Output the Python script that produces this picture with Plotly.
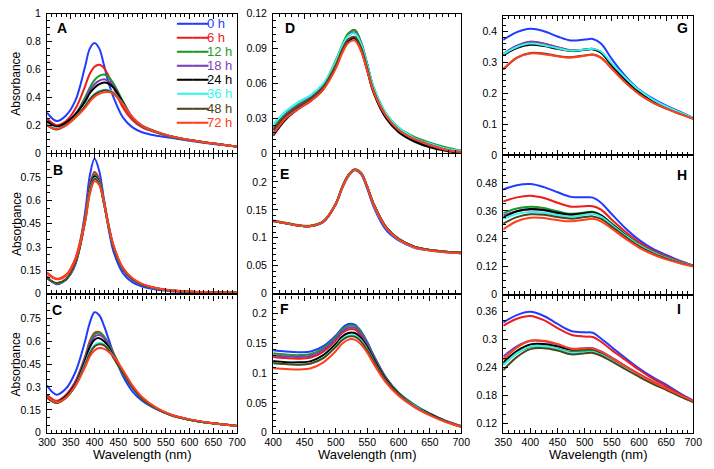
import plotly.graph_objects as go

W, H = 714, 469

HOURS = ["0 h", "6 h", "12 h", "18 h", "24 h", "36 h", "48 h", "72 h"]
COLORS = ["#1f3cff", "#ee1c1c", "#1a9a2a", "#7a3fb5", "#000000", "#33f5ee", "#4f4519", "#ff4020"]

WL_1 = [300, 320, 340, 360, 380, 390, 400, 410, 420, 430, 440, 460, 480, 500, 530, 560, 600, 650, 700]
WL_2 = [400, 420, 440, 460, 480, 500, 510, 520, 530, 540, 550, 560, 580, 600, 625, 650, 675, 700]
WL_3 = [350, 375, 400, 425, 450, 475, 500, 515, 530, 550, 575, 600, 625, 650, 675, 700]

A_SPECTRA = [
    [0.290, 0.230, 0.270, 0.380, 0.620, 0.750, 0.790, 0.750, 0.630, 0.500, 0.400, 0.255, 0.185, 0.150, 0.125, 0.110, 0.088, 0.065, 0.047],
    [0.250, 0.200, 0.230, 0.320, 0.480, 0.570, 0.620, 0.635, 0.610, 0.550, 0.470, 0.325, 0.235, 0.185, 0.148, 0.118, 0.092, 0.068, 0.047],
    [0.220, 0.180, 0.210, 0.280, 0.400, 0.470, 0.525, 0.555, 0.565, 0.545, 0.500, 0.370, 0.255, 0.195, 0.152, 0.120, 0.094, 0.069, 0.047],
    [0.220, 0.180, 0.210, 0.280, 0.380, 0.450, 0.495, 0.520, 0.530, 0.515, 0.480, 0.360, 0.252, 0.193, 0.151, 0.120, 0.094, 0.069, 0.047],
    [0.230, 0.190, 0.220, 0.280, 0.370, 0.430, 0.470, 0.495, 0.507, 0.498, 0.470, 0.362, 0.255, 0.196, 0.153, 0.121, 0.094, 0.069, 0.047],
    [0.210, 0.180, 0.200, 0.260, 0.340, 0.390, 0.425, 0.447, 0.455, 0.452, 0.435, 0.352, 0.255, 0.196, 0.153, 0.121, 0.094, 0.069, 0.047],
    [0.200, 0.170, 0.200, 0.260, 0.335, 0.385, 0.420, 0.440, 0.450, 0.447, 0.430, 0.348, 0.255, 0.196, 0.153, 0.121, 0.094, 0.069, 0.047],
    [0.200, 0.175, 0.200, 0.255, 0.325, 0.370, 0.405, 0.425, 0.436, 0.438, 0.425, 0.350, 0.258, 0.198, 0.154, 0.122, 0.095, 0.069, 0.047],
]

B_SPECTRA = [
    [0.110, 0.060, 0.090, 0.190, 0.520, 0.760, 0.870, 0.790, 0.600, 0.410, 0.270, 0.130, 0.072, 0.045, 0.025, 0.015, 0.009, 0.005, 0.004],
    [0.135, 0.095, 0.120, 0.230, 0.500, 0.700, 0.785, 0.740, 0.600, 0.440, 0.310, 0.160, 0.095, 0.060, 0.034, 0.020, 0.012, 0.007, 0.005],
    [0.100, 0.065, 0.090, 0.200, 0.480, 0.680, 0.770, 0.730, 0.590, 0.430, 0.300, 0.155, 0.090, 0.057, 0.032, 0.019, 0.011, 0.006, 0.004],
    [0.100, 0.065, 0.090, 0.200, 0.480, 0.670, 0.760, 0.720, 0.585, 0.430, 0.300, 0.155, 0.090, 0.057, 0.032, 0.019, 0.011, 0.006, 0.004],
    [0.100, 0.066, 0.090, 0.200, 0.470, 0.670, 0.755, 0.715, 0.580, 0.425, 0.298, 0.155, 0.090, 0.057, 0.032, 0.019, 0.011, 0.006, 0.004],
    [0.100, 0.066, 0.090, 0.200, 0.470, 0.660, 0.745, 0.710, 0.580, 0.425, 0.300, 0.156, 0.090, 0.058, 0.032, 0.019, 0.011, 0.006, 0.004],
    [0.100, 0.068, 0.092, 0.200, 0.460, 0.650, 0.740, 0.705, 0.575, 0.425, 0.300, 0.157, 0.091, 0.058, 0.033, 0.019, 0.011, 0.006, 0.004],
    [0.130, 0.092, 0.115, 0.220, 0.460, 0.640, 0.725, 0.700, 0.580, 0.430, 0.310, 0.165, 0.098, 0.062, 0.035, 0.021, 0.012, 0.007, 0.005],
]

C_SPECTRA = [
    [0.310, 0.250, 0.290, 0.400, 0.600, 0.720, 0.790, 0.770, 0.700, 0.610, 0.520, 0.370, 0.270, 0.210, 0.155, 0.118, 0.085, 0.060, 0.045],
    [0.250, 0.210, 0.250, 0.340, 0.500, 0.600, 0.655, 0.660, 0.630, 0.580, 0.520, 0.400, 0.300, 0.225, 0.160, 0.118, 0.086, 0.062, 0.045],
    [0.240, 0.200, 0.240, 0.330, 0.490, 0.590, 0.645, 0.655, 0.630, 0.580, 0.520, 0.400, 0.300, 0.225, 0.160, 0.118, 0.086, 0.062, 0.045],
    [0.240, 0.200, 0.240, 0.330, 0.480, 0.580, 0.630, 0.640, 0.620, 0.570, 0.510, 0.395, 0.300, 0.225, 0.160, 0.118, 0.086, 0.062, 0.045],
    [0.240, 0.200, 0.240, 0.320, 0.470, 0.560, 0.610, 0.620, 0.600, 0.560, 0.500, 0.390, 0.295, 0.222, 0.158, 0.117, 0.086, 0.062, 0.045],
    [0.230, 0.200, 0.230, 0.310, 0.450, 0.530, 0.575, 0.590, 0.580, 0.545, 0.495, 0.390, 0.295, 0.222, 0.158, 0.117, 0.086, 0.062, 0.045],
    [0.230, 0.195, 0.230, 0.310, 0.440, 0.520, 0.565, 0.580, 0.572, 0.540, 0.490, 0.390, 0.295, 0.222, 0.158, 0.117, 0.086, 0.062, 0.045],
    [0.240, 0.200, 0.230, 0.310, 0.430, 0.500, 0.540, 0.555, 0.550, 0.530, 0.500, 0.410, 0.310, 0.235, 0.165, 0.120, 0.088, 0.063, 0.045],
]

D_SPECTRA = [
    [0.017, 0.031, 0.039, 0.046, 0.056, 0.075, 0.087, 0.097, 0.100, 0.090, 0.072, 0.053, 0.031, 0.019, 0.011, 0.006, 0.003, 0.001],
    [0.020, 0.033, 0.041, 0.048, 0.058, 0.079, 0.092, 0.103, 0.106, 0.095, 0.076, 0.056, 0.033, 0.021, 0.013, 0.008, 0.004, 0.002],
    [0.022, 0.034, 0.042, 0.049, 0.059, 0.080, 0.093, 0.103, 0.106, 0.096, 0.077, 0.057, 0.034, 0.022, 0.014, 0.009, 0.005, 0.002],
    [0.020, 0.033, 0.041, 0.048, 0.058, 0.078, 0.091, 0.101, 0.104, 0.094, 0.076, 0.056, 0.033, 0.021, 0.013, 0.008, 0.004, 0.002],
    [0.015, 0.029, 0.038, 0.045, 0.055, 0.074, 0.087, 0.096, 0.099, 0.089, 0.071, 0.052, 0.030, 0.018, 0.010, 0.005, 0.002, 0.000],
    [0.025, 0.036, 0.044, 0.050, 0.060, 0.079, 0.092, 0.101, 0.103, 0.094, 0.076, 0.057, 0.034, 0.022, 0.013, 0.008, 0.004, 0.002],
    [0.020, 0.032, 0.040, 0.047, 0.057, 0.076, 0.089, 0.098, 0.100, 0.091, 0.073, 0.054, 0.032, 0.020, 0.012, 0.007, 0.003, 0.001],
    [0.016, 0.030, 0.038, 0.045, 0.055, 0.073, 0.086, 0.095, 0.097, 0.088, 0.071, 0.053, 0.032, 0.020, 0.012, 0.007, 0.003, 0.001],
]

E_SPECTRA = [
    [0.130, 0.126, 0.122, 0.121, 0.128, 0.160, 0.188, 0.210, 0.221, 0.214, 0.188, 0.156, 0.114, 0.095, 0.082, 0.077, 0.074, 0.072],
    [0.130, 0.126, 0.122, 0.121, 0.129, 0.161, 0.190, 0.212, 0.222, 0.216, 0.191, 0.160, 0.118, 0.097, 0.083, 0.078, 0.075, 0.072],
    [0.131, 0.127, 0.123, 0.122, 0.130, 0.162, 0.191, 0.213, 0.223, 0.217, 0.192, 0.161, 0.119, 0.098, 0.084, 0.078, 0.075, 0.073],
    [0.130, 0.126, 0.122, 0.121, 0.129, 0.161, 0.190, 0.212, 0.222, 0.216, 0.191, 0.160, 0.118, 0.097, 0.083, 0.078, 0.075, 0.072],
    [0.130, 0.126, 0.122, 0.121, 0.129, 0.161, 0.190, 0.212, 0.222, 0.216, 0.191, 0.161, 0.119, 0.098, 0.084, 0.078, 0.075, 0.073],
    [0.130, 0.126, 0.122, 0.121, 0.129, 0.161, 0.189, 0.211, 0.222, 0.216, 0.191, 0.160, 0.118, 0.097, 0.083, 0.078, 0.075, 0.072],
    [0.130, 0.126, 0.122, 0.121, 0.129, 0.161, 0.190, 0.212, 0.222, 0.216, 0.191, 0.161, 0.119, 0.098, 0.084, 0.078, 0.075, 0.073],
    [0.130, 0.126, 0.122, 0.121, 0.129, 0.161, 0.190, 0.212, 0.222, 0.216, 0.191, 0.160, 0.118, 0.097, 0.083, 0.077, 0.074, 0.072],
]

F_SPECTRA = [
    [0.138, 0.136, 0.135, 0.136, 0.145, 0.163, 0.175, 0.182, 0.181, 0.170, 0.152, 0.130, 0.092, 0.067, 0.047, 0.032, 0.020, 0.011],
    [0.127, 0.125, 0.124, 0.126, 0.136, 0.155, 0.167, 0.173, 0.173, 0.163, 0.146, 0.126, 0.090, 0.066, 0.046, 0.031, 0.020, 0.011],
    [0.133, 0.131, 0.130, 0.132, 0.142, 0.161, 0.173, 0.179, 0.179, 0.169, 0.151, 0.130, 0.092, 0.067, 0.047, 0.032, 0.020, 0.011],
    [0.130, 0.128, 0.127, 0.129, 0.139, 0.158, 0.170, 0.176, 0.176, 0.166, 0.149, 0.128, 0.091, 0.066, 0.046, 0.031, 0.020, 0.011],
    [0.120, 0.118, 0.118, 0.120, 0.130, 0.149, 0.161, 0.167, 0.167, 0.159, 0.143, 0.124, 0.089, 0.065, 0.045, 0.031, 0.019, 0.010],
    [0.116, 0.115, 0.114, 0.116, 0.126, 0.145, 0.157, 0.163, 0.163, 0.155, 0.140, 0.121, 0.087, 0.064, 0.045, 0.030, 0.019, 0.010],
    [0.117, 0.115, 0.114, 0.116, 0.125, 0.144, 0.155, 0.161, 0.161, 0.153, 0.138, 0.120, 0.087, 0.064, 0.044, 0.030, 0.019, 0.010],
    [0.108, 0.107, 0.106, 0.108, 0.118, 0.137, 0.149, 0.156, 0.156, 0.148, 0.134, 0.116, 0.084, 0.062, 0.043, 0.029, 0.018, 0.010],
]

G_SPECTRA = [
    [0.372, 0.397, 0.408, 0.400, 0.383, 0.370, 0.373, 0.375, 0.360, 0.310, 0.255, 0.212, 0.183, 0.160, 0.140, 0.120],
    [0.322, 0.352, 0.366, 0.360, 0.348, 0.338, 0.341, 0.343, 0.333, 0.290, 0.243, 0.205, 0.177, 0.155, 0.137, 0.120],
    [0.325, 0.350, 0.362, 0.357, 0.346, 0.337, 0.340, 0.342, 0.332, 0.290, 0.243, 0.205, 0.177, 0.155, 0.137, 0.120],
    [0.327, 0.353, 0.366, 0.360, 0.348, 0.338, 0.341, 0.343, 0.333, 0.291, 0.244, 0.206, 0.178, 0.156, 0.137, 0.120],
    [0.322, 0.346, 0.356, 0.352, 0.343, 0.336, 0.340, 0.342, 0.331, 0.290, 0.242, 0.204, 0.176, 0.155, 0.137, 0.120],
    [0.326, 0.349, 0.360, 0.355, 0.345, 0.337, 0.341, 0.343, 0.335, 0.296, 0.250, 0.210, 0.180, 0.157, 0.138, 0.121],
    [0.276, 0.314, 0.330, 0.328, 0.320, 0.316, 0.322, 0.325, 0.315, 0.280, 0.235, 0.198, 0.170, 0.150, 0.133, 0.117],
    [0.277, 0.315, 0.328, 0.326, 0.319, 0.315, 0.321, 0.324, 0.314, 0.279, 0.234, 0.197, 0.170, 0.150, 0.133, 0.117],
]

H_SPECTRA = [
    [0.452, 0.470, 0.475, 0.462, 0.440, 0.420, 0.418, 0.417, 0.395, 0.345, 0.285, 0.235, 0.197, 0.170, 0.145, 0.124],
    [0.400, 0.418, 0.425, 0.415, 0.395, 0.378, 0.380, 0.380, 0.365, 0.322, 0.270, 0.225, 0.190, 0.165, 0.143, 0.124],
    [0.350, 0.370, 0.378, 0.372, 0.358, 0.347, 0.353, 0.356, 0.342, 0.305, 0.258, 0.216, 0.184, 0.160, 0.140, 0.123],
    [0.340, 0.358, 0.366, 0.362, 0.350, 0.341, 0.347, 0.350, 0.337, 0.300, 0.254, 0.213, 0.182, 0.158, 0.139, 0.123],
    [0.330, 0.358, 0.368, 0.364, 0.352, 0.344, 0.350, 0.353, 0.340, 0.302, 0.256, 0.214, 0.182, 0.158, 0.139, 0.123],
    [0.325, 0.347, 0.355, 0.352, 0.342, 0.335, 0.343, 0.347, 0.335, 0.299, 0.254, 0.213, 0.182, 0.158, 0.139, 0.123],
    [0.305, 0.333, 0.345, 0.343, 0.333, 0.326, 0.333, 0.336, 0.325, 0.292, 0.248, 0.208, 0.178, 0.155, 0.137, 0.122],
    [0.280, 0.315, 0.330, 0.329, 0.320, 0.315, 0.322, 0.326, 0.315, 0.283, 0.240, 0.202, 0.173, 0.151, 0.134, 0.120],
]

I_SPECTRA = [
    [0.336, 0.352, 0.359, 0.350, 0.333, 0.318, 0.315, 0.314, 0.302, 0.283, 0.260, 0.238, 0.219, 0.203, 0.185, 0.169],
    [0.329, 0.344, 0.350, 0.341, 0.324, 0.310, 0.306, 0.305, 0.295, 0.277, 0.256, 0.235, 0.216, 0.200, 0.183, 0.168],
    [0.245, 0.270, 0.284, 0.285, 0.280, 0.273, 0.275, 0.275, 0.269, 0.257, 0.239, 0.223, 0.207, 0.193, 0.179, 0.167],
    [0.263, 0.285, 0.297, 0.296, 0.289, 0.280, 0.281, 0.281, 0.274, 0.261, 0.243, 0.226, 0.210, 0.196, 0.181, 0.168],
    [0.250, 0.275, 0.289, 0.290, 0.285, 0.278, 0.279, 0.279, 0.272, 0.259, 0.241, 0.224, 0.208, 0.194, 0.180, 0.167],
    [0.245, 0.270, 0.285, 0.285, 0.279, 0.271, 0.272, 0.273, 0.267, 0.255, 0.238, 0.222, 0.206, 0.193, 0.179, 0.167],
    [0.234, 0.262, 0.279, 0.281, 0.276, 0.268, 0.270, 0.271, 0.265, 0.253, 0.236, 0.220, 0.205, 0.192, 0.178, 0.166],
    [0.256, 0.282, 0.297, 0.297, 0.290, 0.280, 0.280, 0.280, 0.273, 0.260, 0.242, 0.225, 0.209, 0.195, 0.181, 0.168],
]

# panel: letter, wavelengths, spectra, x range, y range, y tick values, y tick texts, minor y step
PANELS = [
    ("A", WL_1, A_SPECTRA, [300, 700], [0, 1.0], [0, 0.2, 0.4, 0.6, 0.8, 1.0], ["0", "0.2", "0.4", "0.6", "0.8", "1"], 0.05),
    ("B", WL_1, B_SPECTRA, [300, 700], [0, 0.9], [0, 0.15, 0.3, 0.45, 0.6, 0.75], ["0", "0.15", "0.3", "0.45", "0.6", "0.75"], 0.05),
    ("C", WL_1, C_SPECTRA, [300, 700], [0, 0.9], [0, 0.15, 0.3, 0.45, 0.6, 0.75], ["0", "0.15", "0.3", "0.45", "0.6", "0.75"], 0.05),
    ("D", WL_2, D_SPECTRA, [400, 700], [0, 0.12], [0, 0.03, 0.06, 0.09, 0.12], ["0", "0.03", "0.06", "0.09", "0.12"], 0.006),
    ("E", WL_2, E_SPECTRA, [400, 700], [0, 0.25], [0, 0.05, 0.1, 0.15, 0.2], ["0", "0.05", "0.1", "0.15", "0.2"], 0.01),
    ("F", WL_2, F_SPECTRA, [400, 700], [0, 0.23], [0, 0.05, 0.1, 0.15, 0.2], ["0", "0.05", "0.1", "0.15", "0.2"], 0.01),
    ("G", WL_3, G_SPECTRA, [350, 700], [0, 0.45], [0, 0.1, 0.2, 0.3, 0.4], ["0", "0.1", "0.2", "0.3", "0.4"], 0.02),
    ("H", WL_3, H_SPECTRA, [350, 700], [0, 0.6], [0, 0.12, 0.24, 0.36, 0.48], ["0", "0.12", "0.24", "0.36", "0.48"], 0.03),
    ("I", WL_3, I_SPECTRA, [350, 700], [0.1, 0.392], [0.12, 0.18, 0.24, 0.3, 0.36], ["0.12", "0.18", "0.24", "0.3", "0.36"], 0.02),
]

# layout geometry in pixels
COL_X = [(39, 234), (271, 464), (507, 702)]
ROW_Y = [
    [(8, 151), (152, 295), (297, 438)],
    [(8, 151), (152, 295), (297, 438)],
    [(10, 153), (153, 296), (298, 438)],
]
LETTER_POS = [(54.5, 23), (50, 168), (49, 312), (288, 23), (283, 172), (283, 311),
              (690.5, 23), (690.5, 173), (687, 311)]

FONT = "Liberation Sans, Arial, Helvetica, sans-serif"

fig = go.Figure()
layout = dict(
    width=W, height=H, margin=dict(l=0, r=0, t=0, b=0),
    paper_bgcolor="white", plot_bgcolor="white", showlegend=False,
    font=dict(family=FONT, color="black", size=11),
)
annotations = []

for i, (letter, wl, spectra, xr, yr, tv, tt, ystep) in enumerate(PANELS, start=1):
    col, row = (i - 1) // 3, (i - 1) % 3
    sfx = "" if i == 1 else str(i)
    for lab, colr, ys in zip(HOURS, COLORS, spectra):
        fig.add_trace(go.Scatter(
            x=wl, y=ys, mode="lines", name=lab,
            line=dict(color=colr, width=2, shape="spline", smoothing=1.0),
            xaxis="x" + sfx, yaxis="y" + sfx, hoverinfo="skip"))
    x0, x1 = COL_X[col]
    y0, y1 = ROW_Y[col][row]
    bottom = row == 2
    layout["xaxis" + sfx] = dict(
        domain=[x0 / W, x1 / W], range=xr, anchor="y" + sfx,
        showline=True, linecolor="black", linewidth=1.2, mirror="allticks",
        ticks="inside", ticklen=5, tickwidth=1, tickcolor="black",
        tick0=xr[0], dtick=50,
        minor=dict(tick0=xr[0], dtick=10, ticks="inside", ticklen=3, tickwidth=1, tickcolor="black"),
        showgrid=False, zeroline=False, showticklabels=bottom,
        ticklabelstandoff=0,
        tickfont=dict(size=10.5, family=FONT),
    )
    layout["yaxis" + sfx] = dict(
        domain=[1 - y1 / H, 1 - y0 / H], range=yr, anchor="x" + sfx,
        showline=True, linecolor="black", linewidth=1.2, mirror=True,
        ticks="inside", ticklen=5, tickwidth=1, tickcolor="black",
        tickmode="array", tickvals=tv, ticktext=tt,
        minor=dict(tick0=tv[0], dtick=ystep, ticks="inside", ticklen=3, tickwidth=1, tickcolor="black"),
        showgrid=False, zeroline=False,
        ticklabelstandoff=3,
        tickfont=dict(size=10.5, family=FONT),
    )
    lx, ly = LETTER_POS[i - 1]
    annotations.append(dict(
        text="<b>%s</b>" % letter, x=lx / W, y=1 - ly / H, xref="paper", yref="paper",
        xanchor="center", yanchor="middle", showarrow=False,
        font=dict(size=14, family=FONT, color="black")))
    if col == 0:
        annotations.append(dict(
            text="Absorbance", x=7.5 / W, y=1 - ((y0 + y1) / 2) / H, xref="paper", yref="paper",
            xanchor="center", yanchor="middle", textangle=-90, showarrow=False, borderpad=0,
            font=dict(size=12, family=FONT, color="black")))
    if bottom:
        annotations.append(dict(
            text="Wavelength (nm)", x=((x0 + x1) / 2) / W, y=0, xref="paper", yref="paper",
            xanchor="center", yanchor="bottom", showarrow=False, borderpad=0,
            font=dict(size=13, family=FONT, color="black")))

# legend inside panel A
for k, (lab, colr) in enumerate(zip(HOURS, COLORS)):
    ypx = 18.3 + 14.4 * k
    annotations.append(dict(
        text="━━━━", x=170 / W, y=1 - ypx / H, xref="paper", yref="paper",
        xanchor="left", yanchor="middle", showarrow=False, borderpad=0,
        font=dict(size=13, family="DejaVu Sans", color=colr)))
    annotations.append(dict(
        text=lab, x=202 / W, y=1 - ypx / H, xref="paper", yref="paper",
        xanchor="left", yanchor="middle", showarrow=False, borderpad=0,
        font=dict(size=13, family=FONT, color=colr)))

layout["annotations"] = annotations
fig.update_layout(**layout)
fig.write_html("out.html")
